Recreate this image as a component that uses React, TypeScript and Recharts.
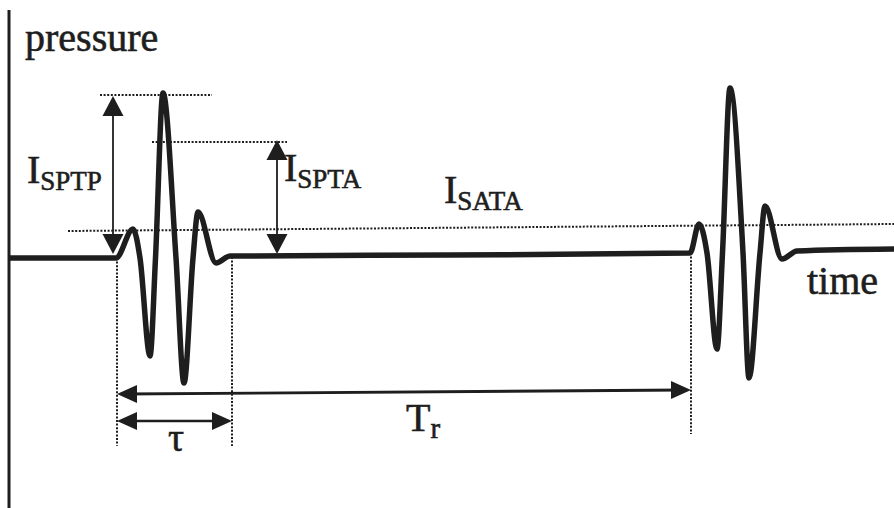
import React from 'react'
import { ComposedChart, Line, Scatter, XAxis, YAxis, ReferenceLine } from 'recharts'

// time in arbitrary units (µs), pressure in arbitrary units, baseline ~0
const waveTime = [
  0, 10.7, 12.4, 13.1, 14.1, 14.65, 15.4, 16.7, 17.5, 18.4, 18.9, 20.7, 22.1,
  44.1, 68.1, 69.0, 69.8, 70.8, 71.35, 72.1, 73.4, 74.0, 75.1, 75.6, 77.3, 78.8, 88.5,
]
const wavePressure = [
  0, 0, 2.9, 0, -9.8, 0, 16.5, 0, -12.5, 0, 4.6, -0.5, 0.2,
  0.3, 0.5, 3.4, 0.5, -9.1, 0.5, 17.0, 0.5, -12.0, 0.5, 5.2, -0.1, 0.7, 0.9,
]

// pressure axis: [t1, p1, t2, p2]
const pressureAxis = [0, 24.8, 0, -25]

// dotted guide lines: [t1, p1, t2, p2]
const peakGuide = [9.1, 16.3, 20.3, 16.3]
const temporalAvgGuide = [14.3, 11.6, 27.8, 11.6]
const pulseAvgGuide = [5.9, 2.7, 88.5, 3.4]
const pulseStartMark = [10.8, 0, 10.8, -18.8]
const pulseEndMark = [22.3, 0.1, 22.3, -18.8]
const nextPulseMark = [68.2, 0.5, 68.2, -17.6]

// arrow shafts: [t1, p1, t2, p2]
const sptpShaft = [10.4, 15.6, 10.4, 1.0]
const sptaShaft = [26.8, 11.2, 26.8, 1.0]
const periodShaft = [11.5, -13.6, 67.5, -13.2]
const durationShaft = [11.5, -16.3, 21.6, -16.3]

// arrow heads (tips)
const headTime = [10.4, 10.4, 26.8, 26.8, 10.8, 68.2, 10.8, 22.3]
const headPressure = [16.2, 0.4, 11.8, 0.4, -13.6, -13.2, -16.3, -16.3]
const headDir = ['up', 'down', 'up', 'down', 'left', 'right', 'left', 'right']

// text labels
const labelText = ['pressure', 'time', 'I', 'I', 'I', 'τ', 'T']
const labelSub = ['', '', 'SPTP', 'SPTA', 'SATA', '', 'r']
const labelTime = [1.6, 79.8, 1.8, 27.5, 43.5, 15.9, 39.7]
const labelPressure = [20.7, -3.6, 7.5, 7.7, 5.5, -19.3, -17.3]

const wave = waveTime.map((t, i) => ({ t, p: wavePressure[i] }))
const heads = headTime.map((t, i) => ({ t, p: headPressure[i], dir: headDir[i] }))
const labels = labelText.map((text, i) => ({
  t: labelTime[i], p: labelPressure[i], text, sub: labelSub[i],
}))

const INK = '#1e1e1e'
const FONT = '"Liberation Serif", "Times New Roman", serif'

const seg = (s: number[]) => [{ x: s[0], y: s[1] }, { x: s[2], y: s[3] }]

function ArrowHead(props: any) {
  const { cx, cy, payload } = props
  const d = payload.dir
  let pts = ''
  if (d === 'up') pts = `${cx},${cy} ${cx - 10.5},${cy + 20} ${cx + 10.5},${cy + 20}`
  if (d === 'down') pts = `${cx},${cy} ${cx - 10.5},${cy - 20} ${cx + 10.5},${cy - 20}`
  if (d === 'left') pts = `${cx},${cy} ${cx + 20},${cy - 9} ${cx + 20},${cy + 9}`
  if (d === 'right') pts = `${cx},${cy} ${cx - 20},${cy - 9} ${cx - 20},${cy + 9}`
  return <polygon points={pts} fill={INK} />
}

function TextMark(props: any) {
  const { cx, cy, payload } = props
  return (
    <text
      x={cx} y={cy} fontFamily={FONT} fontSize={40} fill={INK}
      stroke={INK} strokeWidth={0.6}
    >
      <tspan>{payload.text}</tspan>
      {payload.sub && (
        <tspan fontSize={payload.sub === 'r' ? 29 : 27} dy={7}>{payload.sub}</tspan>
      )}
    </text>
  )
}

export default function App() {
  const dotted = { stroke: INK, strokeWidth: 2, strokeDasharray: '2 1.6' }
  return (
    <div style={{ position: 'absolute', left: 0, top: 0, width: 894, height: 508, background: '#fff' }}>
      <ComposedChart width={894} height={508} margin={{ top: 8, right: 0, bottom: 0, left: 9 }}>
        <XAxis dataKey="t" type="number" domain={[0, 88.5]} hide allowDataOverflow />
        <YAxis type="number" domain={[-25, 25]} hide allowDataOverflow />

        <ReferenceLine segment={seg(pressureAxis)} stroke={INK} strokeWidth={3} />

        <ReferenceLine segment={seg(peakGuide)} {...dotted} />
        <ReferenceLine segment={seg(temporalAvgGuide)} {...dotted} />
        <ReferenceLine segment={seg(pulseAvgGuide)} {...dotted} />
        <ReferenceLine segment={seg(pulseStartMark)} {...dotted} />
        <ReferenceLine segment={seg(pulseEndMark)} {...dotted} />
        <ReferenceLine segment={seg(nextPulseMark)} {...dotted} />

        <ReferenceLine segment={seg(sptpShaft)} stroke={INK} strokeWidth={1.8} />
        <ReferenceLine segment={seg(sptaShaft)} stroke={INK} strokeWidth={1.8} />
        <ReferenceLine segment={seg(periodShaft)} stroke={INK} strokeWidth={2.8} />
        <ReferenceLine segment={seg(durationShaft)} stroke={INK} strokeWidth={2.6} />

        <Line
          data={wave} dataKey="p" type="monotone" stroke={INK} strokeWidth={5.5}
          dot={false} activeDot={false} strokeLinejoin="round" isAnimationActive={false}
        />
        <Scatter data={heads} dataKey="p" shape={ArrowHead} isAnimationActive={false} />
        <Scatter data={labels} dataKey="p" shape={TextMark} isAnimationActive={false} />
      </ComposedChart>
    </div>
  )
}
